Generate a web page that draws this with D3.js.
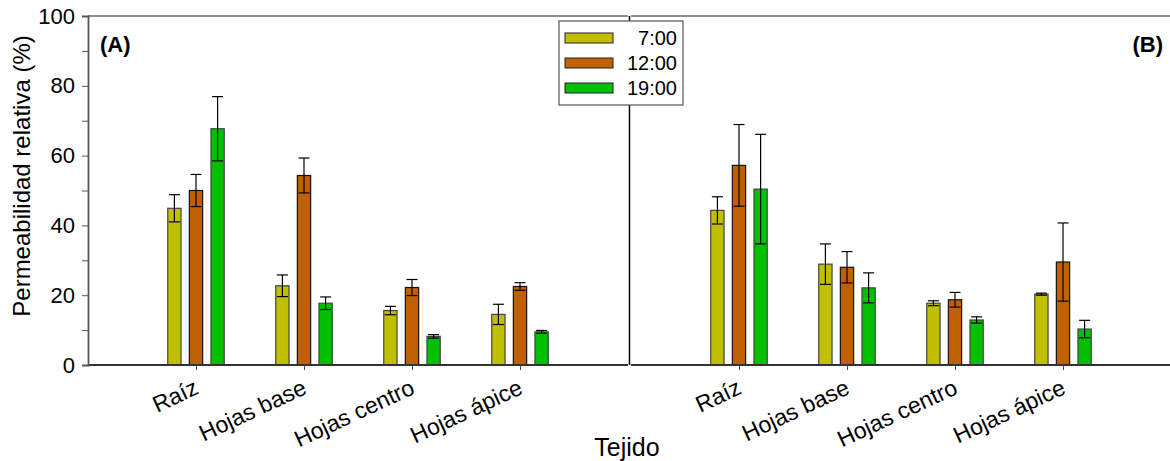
<!DOCTYPE html>
<html>
<head>
<meta charset="utf-8">
<script src="https://cdn.jsdelivr.net/npm/d3@7"></script>
<style>
  body { margin: 0; background: #fff; }
  text { font-family: "Liberation Sans", Arial, sans-serif; fill: #000; }
</style>
</head>
<body>
<div id="chart"></div>
<script>
const categories = ["Raíz", "Hojas base", "Hojas centro", "Hojas ápice"]
const times = ["7:00", "12:00", "19:00"]
const colors = ["#c0c000", "#c06000", "#00c000"]

// panel A: means and errors per time, one value per tissue
const meanA = [
  [44.9, 22.7, 15.6, 14.5],
  [50.0, 54.3, 22.2, 22.5],
  [67.7, 17.7, 8.2, 9.5]
]
const errA = [
  [3.9, 3.1, 1.2, 2.9],
  [4.6, 5.0, 2.3, 1.1],
  [9.2, 1.8, 0.5, 0.4]
]
// panel B
const meanB = [
  [44.3, 28.9, 17.7, 20.3],
  [57.2, 28.0, 18.7, 29.5],
  [50.4, 22.1, 12.9, 10.3]
]
const errB = [
  [3.9, 5.8, 0.7, 0.3],
  [11.7, 4.5, 2.1, 11.2],
  [15.7, 4.3, 0.9, 2.5]
]
const yTicks = [0, 20, 40, 60, 80, 100]

const width = 1170, height = 461
const yTop = 16, yBottom = 365

const svg = d3.select('#chart').append('svg')
  .attr('width', width)
  .attr('height', height)

const y = d3.scaleLinear().domain([0, 100]).range([yBottom, yTop])

function toRows(mean, err) {
  let rows = []
  mean.forEach((serie, s) => {
    serie.forEach((v, c) => rows.push({ s, c, v, e: err[s][c] }))
  })
  return rows
}

function drawPanel(x0, x1, mean, err, label, labelRight) {
  // categories sit at 1..4 on a 0..5 axis
  const x = d3.scaleLinear().domain([0, 5]).range([x0, x1])
  const g = svg.append('g')
  const barW = 0.123, step = 0.2
  const rows = toRows(mean, err)

  g.selectAll('rect.bar')
    .data(rows)
    .enter()
    .append('rect')
    .attr('class', 'bar')
    .attr('x', d => x(d.c + 1 + (d.s - 1) * step - barW / 2))
    .attr('width', x(barW) - x(0))
    .attr('y', d => y(d.v))
    .attr('height', d => y(0) - y(d.v))
    .attr('fill', d => colors[d.s])
    .attr('stroke', d => d.s == 1 ? '#111' : '#444')
    .attr('stroke-width', 1.2)

  // error bars
  const cap = 5.5
  const eb = g.selectAll('g.err')
    .data(rows)
    .enter()
    .append('g')
    .attr('class', 'err')
    .attr('stroke', '#000')
    .attr('stroke-width', 1.2)
  eb.append('line')
    .attr('x1', d => x(d.c + 1 + (d.s - 1) * step))
    .attr('x2', d => x(d.c + 1 + (d.s - 1) * step))
    .attr('y1', d => y(d.v - d.e))
    .attr('y2', d => y(d.v + d.e))
  eb.selectAll('line.cap')
    .data(d => [d.v - d.e, d.v + d.e].map(t => ({ t, cx: x(d.c + 1 + (d.s - 1) * step) })))
    .enter()
    .append('line')
    .attr('class', 'cap')
    .attr('x1', d => d.cx - cap)
    .attr('x2', d => d.cx + cap)
    .attr('y1', d => y(d.t))
    .attr('y2', d => y(d.t))

  // top frame and bottom axis
  g.append('line')
    .attr('x1', x0).attr('x2', x1)
    .attr('y1', yTop).attr('y2', yTop)
    .attr('stroke', '#666').attr('stroke-width', 1.5)

  const xAxis = d3.axisBottom(x)
    .tickValues([1, 2, 3, 4])
    .tickSize(5)
    .tickFormat('')
  const ax = g.append('g')
    .attr('transform', `translate(0,${yBottom})`)
    .call(xAxis)
  ax.select('.domain').attr('stroke', '#333').attr('stroke-width', 1.8).attr('d', `M${x0},0H${x1}`)
  ax.selectAll('.tick line').attr('stroke', '#444')

  g.selectAll('text.cat')
    .data(categories)
    .enter()
    .append('text')
    .attr('class', 'cat')
    .attr('transform', (d, i) => `translate(${x(i + 1) + 4},${yBottom + 28}) rotate(-25)`)
    .attr('text-anchor', 'end')
    .style('font-size', '23px')
    .text(d => d)

  g.append('text')
    .attr('x', labelRight ? x1 - 8 : x0 + 12)
    .attr('y', 52)
    .attr('text-anchor', labelRight ? 'end' : 'start')
    .style('font-size', '22px')
    .style('font-weight', 'bold')
    .text(label)
}

drawPanel(88, 628, meanA, errA, '(A)', false)
drawPanel(631, 1171, meanB, errB, '(B)', true)

// divider between panels
svg.append('line')
  .attr('x1', 629.5).attr('x2', 629.5)
  .attr('y1', yTop).attr('y2', yBottom)
  .attr('stroke', '#000').attr('stroke-width', 1.5)

// y axis
const yAxis = d3.axisLeft(y).tickValues(d3.range(0, 101, 10)).tickSize(6)
  .tickFormat(d => yTicks.includes(d) ? d : '')
const yg = svg.append('g')
  .attr('transform', 'translate(88,0)')
  .call(yAxis)
yg.select('.domain').attr('stroke', '#555').attr('stroke-width', 1.8)
yg.selectAll('.tick line').attr('stroke', '#555')
yg.selectAll('.tick text')
  .attr('x', -13)
  .style('font-size', '22px')
  .style('font-family', '"Liberation Sans", Arial, sans-serif')
  .attr('fill', '#000')

svg.append('text')
  .attr('transform', `translate(30,176) rotate(-90)`)
  .attr('text-anchor', 'middle')
  .style('font-size', '24px')
  .text('Permeabilidad relativa (%)')

svg.append('text')
  .attr('x', 627)
  .attr('y', 456)
  .attr('text-anchor', 'middle')
  .style('font-size', '25px')
  .text('Tejido')

// legend
const legend = svg.append('g').attr('transform', 'translate(559,21)')
legend.append('rect')
  .attr('width', 124).attr('height', 84)
  .attr('fill', '#fff').attr('stroke', '#555').attr('stroke-width', 1.2)
const item = legend.selectAll('g.item')
  .data(times)
  .enter()
  .append('g')
  .attr('class', 'item')
  .attr('transform', (d, i) => `translate(0,${17 + i * 25})`)
item.append('rect')
  .attr('x', 6).attr('y', -5)
  .attr('width', 48).attr('height', 10)
  .attr('fill', (d, i) => colors[i])
  .attr('stroke', '#222').attr('stroke-width', 1)
item.append('text')
  .attr('x', 118).attr('y', 7)
  .attr('text-anchor', 'end')
  .style('font-size', '20px')
  .text(d => d)
</script>
</body>
</html>
